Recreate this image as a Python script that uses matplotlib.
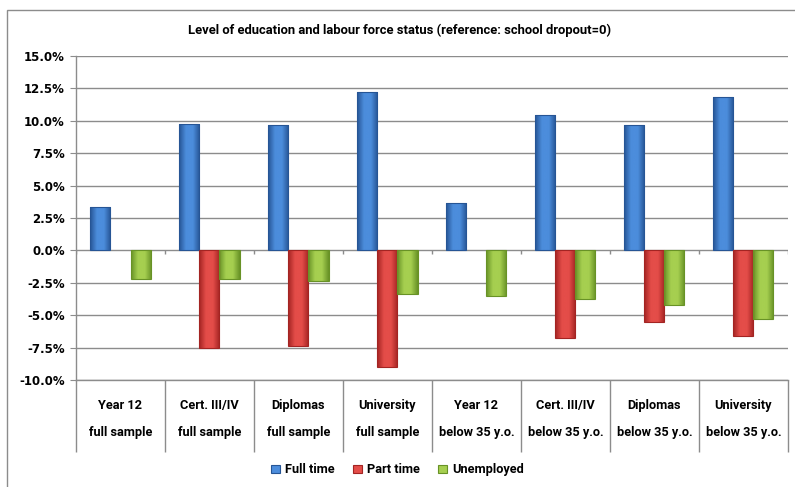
import numpy as np
import matplotlib.pyplot as plt
from matplotlib.colors import LinearSegmentedColormap
from matplotlib.patches import Rectangle, Patch
from matplotlib.ticker import FuncFormatter

levels = ['Year 12', 'Cert. III/IV', 'Diplomas', 'University',
          'Year 12', 'Cert. III/IV', 'Diplomas', 'University']
samples = ['full sample'] * 4 + ['below 35 y.o.'] * 4
full_time = [3.36, 9.77, 9.67, 12.23, 3.67, 10.41, 9.67, 11.82]
part_time = [0.0, -7.56, -7.36, -8.97, 0.0, -6.77, -5.51, -6.62]
unemployed = [-2.18, -2.18, -2.36, -3.33, -3.51, -3.77, -4.20, -5.26]
series = ['Full time', 'Part time', 'Unemployed']

# light, dark shade for each series (Excel-like bevel look)
shades = [('#4c8ddc', '#265595'), ('#e44d49', '#a32422'), ('#a6cf50', '#689226')]

plt.rcParams['font.family'] = ['DejaVu Sans']
narrow = ['Roboto', 'DejaVu Sans']
fig = plt.figure(figsize=(7.95, 4.87), dpi=100)
ax = fig.add_axes([0.0956, 0.2197, 0.8955, 0.6653])

x = np.arange(len(levels))
w = 0.225
for i, (vals, (lt, dk)) in enumerate(zip([full_time, part_time, unemployed], shades)):
    bars = ax.bar(x + (i - 1) * w, vals, w, color=dk, edgecolor='none', zorder=3)
    cmap = LinearSegmentedColormap.from_list('s%d' % i, [dk, lt, lt, dk])
    grad = np.linspace(0, 1, 64).reshape(1, -1)
    for b in bars:
        bx, by = b.get_x(), b.get_y()
        bw, bh = b.get_width(), b.get_height()
        if bh == 0:
            continue
        im = ax.imshow(grad, cmap=cmap, aspect='auto', zorder=4,
                       extent=(bx, bx + bw, by, by + bh), interpolation='bicubic')
        im.set_clip_path(b)
        ax.add_patch(Rectangle((bx, by), bw, bh, fill=False, edgecolor=dk,
                               lw=0.8, zorder=5))

ax.set_xlim(-0.5, len(levels) - 0.5)
ax.set_ylim(-10, 15)
ax.set_yticks(np.arange(-10, 15.1, 2.5))
ax.yaxis.set_major_formatter(FuncFormatter(lambda v, p: '%.1f%%' % v))
ax.grid(axis='y', color='#8c8c8c', lw=1.0, zorder=0)
ax.set_axisbelow(True)
for s in ['top', 'right']:
    ax.spines[s].set_visible(False)
for s in ['left', 'bottom']:
    ax.spines[s].set_color('#8c8c8c')
    ax.spines[s].set_linewidth(1.0)
ax.tick_params(axis='y', length=4, color='#8c8c8c', labelsize=8.5, pad=4)
for t in ax.get_yticklabels():
    t.set_fontweight('bold')

# category table lines below the plot
bounds = np.arange(len(levels) + 1) - 0.5
ax.set_xticks(bounds)
ax.set_xticklabels([])
ax.tick_params(axis='x', length=52, color='#8c8c8c', width=1.0)
ax.vlines(bounds, -0.3, 0, color='#8c8c8c', lw=1.0, zorder=2)

for xi, (lv, sm) in enumerate(zip(levels, samples)):
    ax.text(xi, -0.08, lv, transform=ax.get_xaxis_transform(), ha='center',
            va='center', fontsize=9.2, fontweight='bold', family=narrow)
    ax.text(xi, -0.163, sm, transform=ax.get_xaxis_transform(), ha='center',
            va='center', fontsize=9.2, fontweight='bold', family=narrow)

fig.text(0.503, 0.938, 'Level of education and labour force status (reference: school dropout=0)',
         ha='center', va='center', fontsize=9.4, fontweight='bold', family=narrow)

handles = [Patch(facecolor=lt, edgecolor=dk, lw=0.8) for lt, dk in shades]
fig.legend(handles, series, loc='center', bbox_to_anchor=(0.5, 0.035),
           ncol=3, frameon=False, handlelength=0.7, handleheight=0.7,
           handletextpad=0.4, columnspacing=1.4,
           prop={'family': narrow, 'weight': 'bold', 'size': 9.2})

# chart frame (cropped at right and bottom)
fig.patches.append(Rectangle((0.0088, -0.1), 1.2, 1.0795, transform=fig.transFigure,
                             fill=False, edgecolor='#8c8c8c', lw=1.0))

fig.savefig('out.png', dpi=100)
